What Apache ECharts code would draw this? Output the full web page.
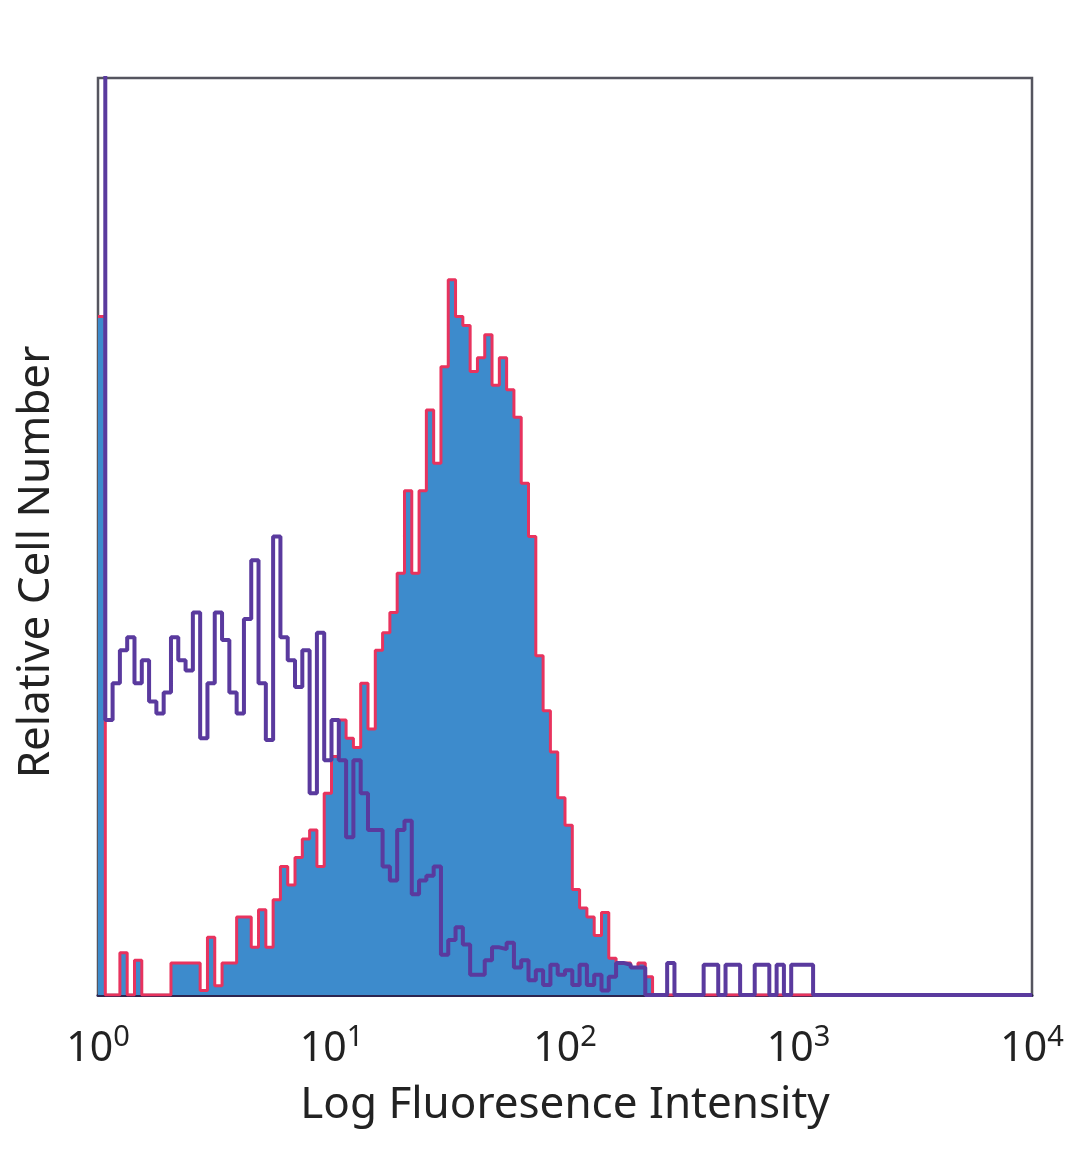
<!DOCTYPE html>
<html>
<head>
<meta charset="utf-8">
<title>Log Fluoresence Intensity</title>
<script src="https://cdn.jsdelivr.net/npm/echarts@6/dist/echarts.min.js"></script>
<style>
  html, body { margin: 0; padding: 0; background: #fff; }
  #chart { width: 1080px; height: 1169px; }
</style>
</head>
<body>
<div id="chart"></div>
<script>
// histogram channels: 32 bins per decade, 10^0 .. 10^4
const binsPerDecade = 32;
const decades = [0, 1, 2, 3, 4];

// stained sample (filled blue, red outline)
const stained = [
  74, 0, 0, 4.6, 0, 3.8, 0, 0, 0, 0,
  3.5, 3.5, 3.5, 3.5, 0.5, 6.3, 1, 3.5, 3.5, 8.5,
  8.5, 5.2, 9.3, 5.2, 10.4, 14, 12, 15, 17, 18,
  14, 22, 26, 30, 28, 27, 34, 29, 37.6, 39.5,
  41.7, 46, 55, 46, 55, 63.8, 58, 68.5, 78, 74,
  73, 68, 69.5, 72, 66.5, 69.5, 66, 63, 55.8, 50,
  37, 31, 26.5, 21.5, 18.5, 11.5, 9.5, 8.5, 6.5, 9,
  4, 3.5, 3.5, 3, 3.5, 2, 0, 0, 0, 0,
  0, 0, 0, 0, 0, 0, 0, 0, 0, 0,
  0, 0, 0, 0, 0, 0, 0, 0, 0, 0,
  0, 0, 0, 0, 0, 0, 0, 0, 0, 0,
  0, 0, 0, 0, 0, 0, 0, 0, 0, 0,
  0, 0, 0, 0, 0, 0, 0, 0
];

// isotype control (purple line)
const isotype = [
  120, 30, 34, 37.6, 39, 34, 36.5, 32, 30.7, 33,
  39, 36.5, 35.4, 41.7, 28, 34, 41.7, 38.7, 33, 30.7,
  41, 47.4, 34, 27.8, 50, 39, 36.5, 33.6, 37.6, 22,
  39.5, 25.6, 30, 25.6, 17.2, 25.6, 22, 18, 18, 14,
  12.5, 18, 19, 11, 12.5, 13, 14, 4.4, 6, 7.4,
  5.5, 2.2, 2.2, 3.8, 5.2, 5, 5.7, 3, 3.8, 1.6,
  2.7, 1.1, 3.3, 2.2, 2.7, 1.1, 3.3, 1.1, 2.2, 0.5,
  2, 3.5, 3.3, 3, 3, 0, 0, 0, 3.5, 0,
  0, 0, 0, 3.3, 3.3, 0, 3.3, 3.3, 0, 0,
  3.3, 3.3, 0, 3.3, 0, 3.3, 3.3, 3.3, 0, 0,
  0, 0, 0, 0, 0, 0, 0, 0, 0, 0,
  0, 0, 0, 0, 0, 0, 0, 0, 0, 0,
  0, 0, 0, 0, 0, 0, 0, 0
];

// bin left edges on the log axis, plus closing point at the right edge
function toSteps(counts) {
  let pts = counts.map((c, i) => [Math.pow(10, i / binsPerDecade), c]);
  pts.push([Math.pow(10, counts.length / binsPerDecade), counts[counts.length - 1]]);
  return pts;
}

let myChart = echarts.init(document.getElementById('chart'));
let fontFamily = '"Noto Sans", "DejaVu Sans", sans-serif';

let option = {
  animation: false,
  grid: {
    left: 98, right: 48, top: 78, bottom: 174,
    show: true, borderColor: '#55555f', borderWidth: 2.5,
    backgroundColor: 'transparent'
  },
  xAxis: {
    type: 'log',
    logBase: 10,
    min: 1,
    max: 10000,
    name: 'Log Fluoresence Intensity',
    nameLocation: 'middle',
    nameGap: 88,
    nameTextStyle: { color: '#222', fontSize: 44, fontFamily: fontFamily },
    axisLine: { show: true, onZero: false, lineStyle: { color: '#2c2550', width: 3 } },
    axisTick: { show: false },
    splitLine: { show: false },
    axisLabel: {
      margin: 28,
      formatter: function (v) {
        return '{b|10}{s|' + Math.round(Math.log10(v)) + '}';
      },
      rich: {
        b: { fontSize: 41, color: '#222', fontFamily: fontFamily },
        s: { fontSize: 29, color: '#222', fontFamily: fontFamily, padding: [0, 0, 24, 0] }
      }
    }
  },
  yAxis: {
    type: 'value',
    min: 0,
    max: 100,
    axisLine: { show: false },
    axisTick: { show: false },
    axisLabel: { show: false },
    splitLine: { show: false }
  },
  graphic: [{
    type: 'text',
    x: 36,
    y: 562,
    rotation: Math.PI / 2,
    style: {
      text: 'Relative Cell Number',
      fontSize: 44,
      fontFamily: fontFamily,
      fill: '#222',
      align: 'center',
      verticalAlign: 'middle'
    }
  }],
  series: [
    {
      name: 'stained',
      type: 'line',
      step: 'end',
      showSymbol: false,
      data: toSteps(stained),
      lineStyle: { color: '#e8335e', width: 3 },
      areaStyle: { color: '#3d8bcc', opacity: 1 },
      z: 2
    },
    {
      name: 'isotype',
      type: 'line',
      step: 'end',
      showSymbol: false,
      clip: true,
      data: toSteps(isotype),
      lineStyle: { color: '#5a3a9e', width: 4 },
      z: 3
    }
  ]
};

myChart.setOption(option);
window.addEventListener('resize', function () { myChart.resize() });
</script>
</body>
</html>
